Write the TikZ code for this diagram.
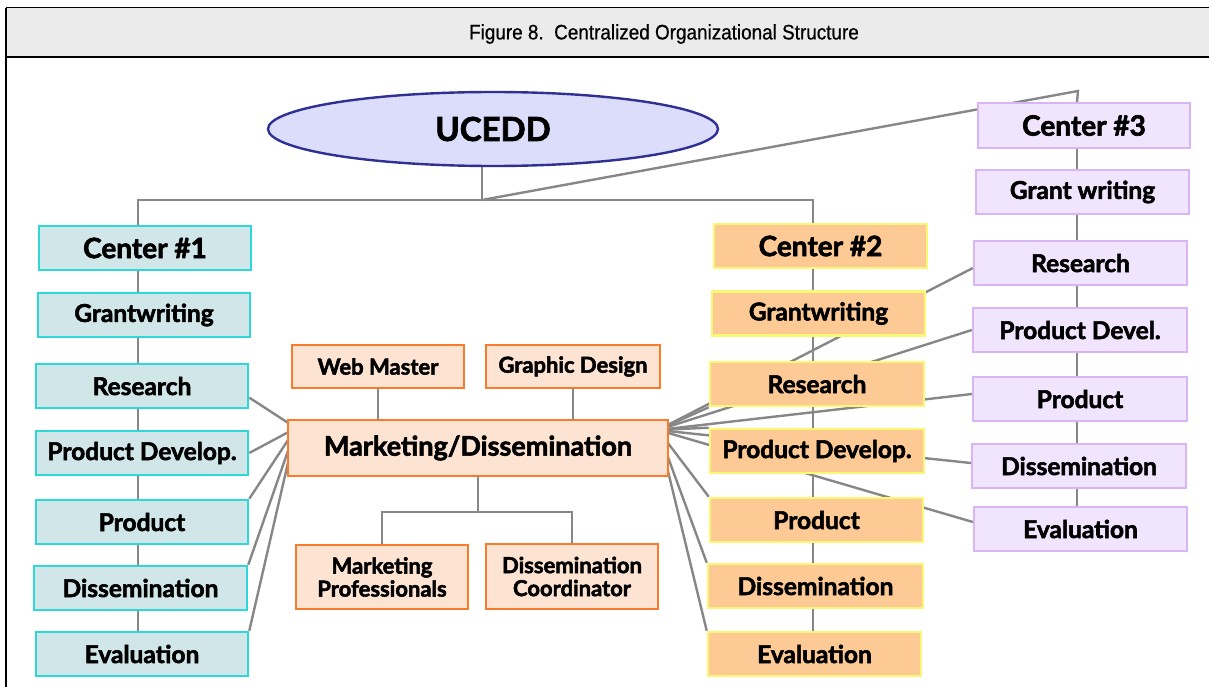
\documentclass[tikz,border=0pt]{standalone}
\usepackage{fontspec}
\setmainfont{Lato}[BoldFeatures={FakeBold=2.2}]
\newfontfamily\headfont[FakeStretch=0.9,FakeBold=0.6]{Liberation Sans}
\usetikzlibrary{shapes.geometric,calc,backgrounds}

\definecolor{hdrfill}{HTML}{EBEBEB}
\definecolor{lineg}{HTML}{878787}
\definecolor{ucfill}{HTML}{DCDCFB}
\definecolor{ucdraw}{HTML}{2E3192}
\definecolor{cafill}{HTML}{D0E6E8}
\definecolor{cadraw}{HTML}{2ED8D8}
\definecolor{cbfill}{HTML}{FDC994}
\definecolor{cbdraw}{HTML}{F8F872}
\definecolor{ccfill}{HTML}{F1E4FD}
\definecolor{ccdraw}{HTML}{D7B5F7}
\definecolor{mkfill}{HTML}{FDE3D1}
\definecolor{mkdraw}{HTML}{F97B2C}

\tikzset{
  unitbox/.style={rectangle, draw, line width=2.6pt, minimum width=212pt,
    minimum height=44pt, inner sep=0pt, text=black,
    font=\fontsize{24.5}{26}\selectfont\bfseries},
  headbox/.style={font=\fontsize{28}{30}\selectfont\bfseries},
  cabox/.style={unitbox, fill=cafill, draw=cadraw},
  cbbox/.style={unitbox, fill=cbfill, draw=cbdraw},
  ccbox/.style={unitbox, fill=ccfill, draw=ccdraw, line width=2.3pt},
  mkbox/.style={unitbox, fill=mkfill, draw=mkdraw, line width=2pt,
    minimum width=172pt, minimum height=43pt, align=center,
    font=\fontsize{22}{23}\selectfont\bfseries},
  conn/.style={draw=lineg, line width=2.4pt},
}

\begin{document}
\begin{tikzpicture}[x=1pt, y=-1pt]
\useasboundingbox (0,0) rectangle (1209,687);

% title bar and frame
\fill[hdrfill] (6,8) rectangle (1215,57);
\draw[black, line width=1pt] (6,8) -- (1215,8);
\draw[black, line width=2.2pt] (6,57) -- (1215,57);
\draw[black, line width=1.4pt] (6,8) -- (6,690);
\node[font=\headfont\fontsize{21}{23}\selectfont] (title) at (664,34)
  {Figure 8.\ \ Centralized Organizational Structure};

% top of the hierarchy
\node[ellipse, draw=ucdraw, fill=ucfill, line width=2.4pt, minimum width=450pt,
  minimum height=74pt, inner sep=0pt, font=\fontsize{33}{35}\selectfont\bfseries]
  (ucedd) at (493,129) {UCEDD};

% column guides
\coordinate (col1) at (138,0);
\coordinate (col2) at (813,0);
\coordinate (col3) at (1077,0);
\coordinate (hub) at (482,200);
\coordinate (tee) at (1078,91);

% Center #1
\node[cabox, headbox] (a0) at (145,248) {Center \#1};
\node[cabox] (a1) at (144,315) {Grantwriting};
\node[cabox] (a2) at (142,386) {Research};
\node[cabox] (a3) at (142,453) {Product Develop.};
\node[cabox] (a4) at (142,522) {Product};
\node[cabox, minimum width=213pt] (a5) at (140.5,588) {Dissemination};
\node[cabox] (a6) at (142,654) {Evaluation};

% Center #2
\node[cbbox, headbox, minimum width=213pt] (b0) at (820.5,246) {Center \#2};
\node[cbbox, minimum width=213pt] (b1) at (818.5,313.5) {Grantwriting};
\node[cbbox, minimum width=214pt] (b2) at (817,384) {Research};
\node[cbbox, minimum width=214pt] (b3) at (817,451) {Product Develop.};
\node[cbbox, minimum width=213pt] (b4) at (816.5,520) {Product};
\node[cbbox, minimum width=215pt] (b5) at (815.5,586) {Dissemination};
\node[cbbox, minimum width=213pt] (b6) at (814.5,654) {Evaluation};

% Center #3
\node[ccbox, headbox, minimum height=45pt] (c0) at (1084,125.5) {Center \#3};
\node[ccbox, minimum width=213pt] (c1) at (1082.5,192) {Grant writing};
\node[ccbox, minimum width=213pt] (c2) at (1080.5,263) {Research};
\node[ccbox, minimum width=214pt] (c3) at (1080,330) {Product Devel.};
\node[ccbox, minimum width=214pt] (c4) at (1080,399) {Product};
\node[ccbox, minimum width=214pt] (c5) at (1079,466) {Dissemination};
\node[ccbox, minimum width=213pt] (c6) at (1080.5,529) {Evaluation};

% shared marketing unit
\node[mkbox, minimum width=380pt, minimum height=56pt,
  font=\fontsize{27}{29}\selectfont\bfseries] (mk) at (478,448) {Marketing/Dissemination};
\node[mkbox] (web) at (378,366.5) {Web Master};
\node[mkbox, minimum width=174pt] (gfx) at (573,366.5) {Graphic Design};
\node[mkbox, minimum height=64pt] (pros) at (382,577) {Marketing\\Professionals};
\node[mkbox, minimum height=65pt] (coord) at (572,576.5) {Dissemination\\Coordinator};

\coordinate (mkL) at (296,428);
\coordinate (mkR) at (658,430);
\coordinate (mkjoin) at (478,512);

\begin{scope}[on background layer]
  % reporting lines from the top
  \draw[conn] (ucedd.south -| hub) -- (hub);
  \draw[conn] (a0.north -| col1) |- (hub) -| (b0.north -| col2);
  \draw[conn] (hub) -- (tee) -- (c0.north -| col3);
  % column spines
  \foreach \u/\v in {a0/a1,a1/a2,a2/a3,a3/a4,a4/a5,a5/a6}
    \draw[conn] (\u.south -| col1) -- (\v.north -| col1);
  \foreach \u/\v in {b0/b1,b1/b2,b2/b3,b3/b4,b4/b5,b5/b6}
    \draw[conn] (\u.south -| col2) -- (\v.north -| col2);
  \foreach \u/\v in {c0/c1,c1/c2,c2/c3,c3/c4,c4/c5,c5/c6}
    \draw[conn] (\u.south -| col3) -- (\v.north -| col3);
  % marketing sub-units
  \draw[conn] (web.south) -- (web.south |- mk.north);
  \draw[conn] (gfx.south) -- (gfx.south |- mk.north);
  \draw[conn] (mk.south) -- (mkjoin);
  \draw[conn] (pros.north) |- (mkjoin) -| (coord.north);
  % links from Center #1 to marketing
  \draw[conn] (mkL) -- ($(a2.east)!0.5!(a2.south east)$);
  \draw[conn] (mkL) -- (a3.east);
  \draw[conn] (mkL) -- (a4.north east);
  \draw[conn] (mkL) -- (a5.north east);
  \draw[conn] (mkL) -- (a6.north east);
  % links from marketing to Center #2
  \draw[conn] (mkR) -- (b2.south west);
  \draw[conn] (mkR) -- (b3.north west);
  \draw[conn] (mkR) -- (b4.north west);
  \draw[conn] (mkR) -- (b5.north west);
  \draw[conn] (mkR) -- (b6.north west);
  % links from marketing to Center #3
  \draw[conn] (mkR) -- ([yshift=-5pt]c2.west);
  \draw[conn] (mkR) -- (c3.west);
  \draw[conn] (mkR) -- ([yshift=5pt]c4.west);
  \draw[conn] (mkR) -- ([yshift=3pt]c5.west);
  \draw[conn] (mkR) -- ([yshift=7pt]c6.west);
\end{scope}
\end{tikzpicture}
\end{document}
